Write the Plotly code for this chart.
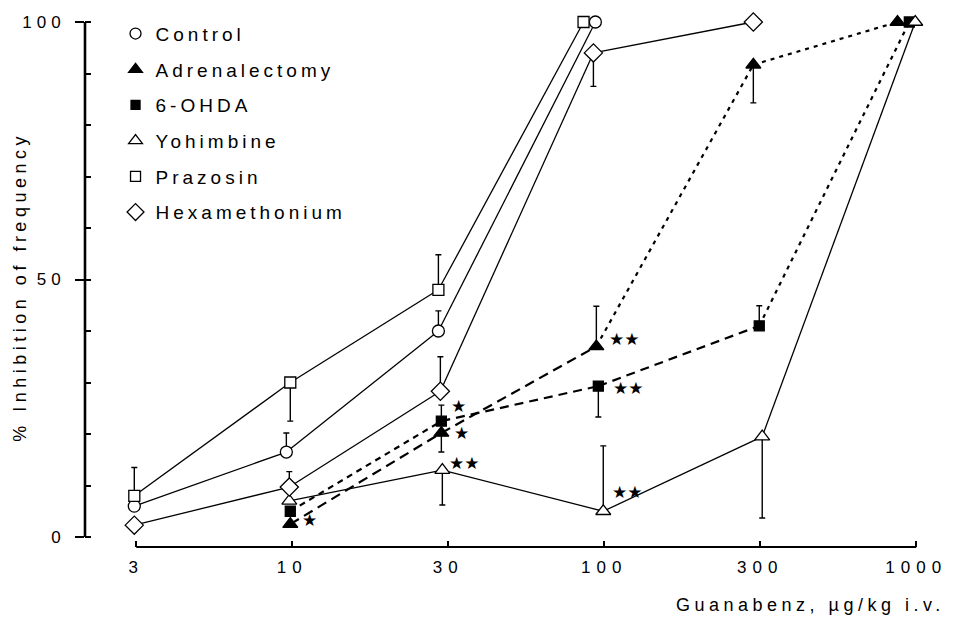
import plotly.graph_objects as go

# ---------------- data ----------------
DOSES = [3, 10, 30, 100, 300, 1000]          # µg/kg i.v. (evenly spaced on the axis)
TICK_LABELS = ["3", "10", "30", "100", "300", "1000"]

CONTROL_DOSE = [3, 10, 30, 100]
CONTROL_Y = [6, 16.5, 40, 100]
CONTROL_UP = [0, 3.7, 3.9, 0]
CONTROL_DN = [0, 0, 0, 0]

ADR_DOSE = [10, 30, 100, 300, 1000]
ADR_Y = [2.5, 20.2, 37, 91.7, 100]
ADR_UP = [0, 0, 7.8, 0, 0]
ADR_DN = [0, 3.7, 0, 7.4, 0]

OHDA_DOSE = [10, 30, 100, 300, 1000]
OHDA_Y = [5, 22.5, 29.3, 41, 100]
OHDA_UP = [0, 3.1, 0, 3.9, 0]
OHDA_DN = [0, 0, 6, 0, 0]

YOH_DOSE = [10, 30, 100, 300, 1000]
YOH_Y = [7, 13, 5, 19.5, 100]
YOH_UP = [0, 0, 12.7, 0, 0]
YOH_DN = [0, 6.8, 0, 15.8, 0]

PRAZ_DOSE = [3, 10, 30, 100]
PRAZ_Y = [8, 30, 48, 100]
PRAZ_UP = [5.5, 0, 6.8, 0]
PRAZ_DN = [0, 7.5, 0, 0]

HEX_DOSE = [3, 10, 30, 100, 300]
HEX_Y = [2.3, 9.7, 28.3, 94, 100]
HEX_UP = [0, 3, 6.7, 0, 0]
HEX_DN = [0, 0, 0, 6.5, 0]

# significance marks: (series, dose, text)
STARS = [
    ("Adrenalectomy", 10, "★"),
    ("6-OHDA", 30, "★"),
    ("Adrenalectomy", 30, "★"),
    ("Yohimbine", 30, "★★"),
    ("Adrenalectomy", 100, "★★"),
    ("6-OHDA", 100, "★★"),
    ("Yohimbine", 100, "★★"),
]

# ---------------- styling ----------------
STEP_PX = 158.2  # pixel width of one dose step
# small horizontal dodges (pixels) so overlapping symbols stay visible, as in the original
DODGE_PX = {
    "Control": [-2, -6, -10, -9],
    "Adrenalectomy": [-2, -7, -8, -7, -19],
    "6-OHDA": [-2, -7, -6, -1, -7],
    "Yohimbine": [-3, -6, -1, 2, -1],
    "Prazosin": [-2, -2, -10, -21],
    "Hexamethonium": [-2, -3, -8, -11, -7],
}
STAR_SHIFT = {  # (xshift, yshift) in px relative to the point
    ("Adrenalectomy", 10): (19, 4),
    ("6-OHDA", 30): (17, 15),
    ("Adrenalectomy", 30): (20, 0),
    ("Yohimbine", 30): (22, 7),
    ("Adrenalectomy", 100): (28, 7),
    ("6-OHDA", 100): (30, -2),
    ("Yohimbine", 100): (24, 19),
}

SERIES = [
    dict(name="Control", dose=CONTROL_DOSE, y=CONTROL_Y, up=CONTROL_UP, dn=CONTROL_DN,
         symbol="circle", size=12, fill="white", dash=["solid"] * 3, lw=1.3),
    dict(name="Adrenalectomy", dose=ADR_DOSE, y=ADR_Y, up=ADR_UP, dn=ADR_DN,
         symbol="triangle-up", size=13, fill="black",
         dash=["10px,6px", "10px,6px", "4px,5px", "4px,5px"], lw=2.2),
    dict(name="6-OHDA", dose=OHDA_DOSE, y=OHDA_Y, up=OHDA_UP, dn=OHDA_DN,
         symbol="square", size=10, fill="black",
         dash=["6px,5px", "9px,6px", "9px,6px", "4px,5px"], lw=2.2),
    dict(name="Yohimbine", dose=YOH_DOSE, y=YOH_Y, up=YOH_UP, dn=YOH_DN,
         symbol="triangle-up", size=13, fill="white", dash=["solid"] * 4, lw=1.3),
    dict(name="Prazosin", dose=PRAZ_DOSE, y=PRAZ_Y, up=PRAZ_UP, dn=PRAZ_DN,
         symbol="square", size=11, fill="white", dash=["solid"] * 3, lw=1.3),
    dict(name="Hexamethonium", dose=HEX_DOSE, y=HEX_Y, up=HEX_UP, dn=HEX_DN,
         symbol="diamond", size=14, fill="white", dash=["solid"] * 4, lw=1.3),
]

FONT = "Liberation Sans, Arial, Helvetica, sans-serif"


def spaced(text, px):
    return f'<span style="letter-spacing:{px}px">{text}</span>'


def xpos(s):
    return [DOSES.index(d) + DODGE_PX[s["name"]][i] / STEP_PX for i, d in enumerate(s["dose"])]


fig = go.Figure()

# connecting lines (segment by segment, to reproduce the mixed dash styles)
for s in SERIES:
    xs = xpos(s)
    for i in range(len(xs) - 1):
        fig.add_trace(go.Scatter(
            x=xs[i:i + 2], y=s["y"][i:i + 2], mode="lines",
            line=dict(color="black", width=s["lw"], dash=s["dash"][i]),
            showlegend=False, hoverinfo="skip", cliponaxis=False))

# markers with one-sided SEM bars
for s in SERIES:
    fig.add_trace(go.Scatter(
        x=xpos(s), y=s["y"], mode="markers", name=s["name"], showlegend=False,
        marker=dict(symbol=s["symbol"], size=s["size"], color=s["fill"],
                    line=dict(color="black", width=1.3)),
        error_y=dict(type="data", symmetric=False, array=s["up"], arrayminus=s["dn"],
                     color="black", thickness=1.4, width=3),
        cliponaxis=False))

# legend entries (symbols only)
for k, s in enumerate(SERIES):
    fig.add_trace(go.Scatter(
        x=[None], y=[None], mode="markers", name=spaced(s["name"], 4),
        legendgroup=f"g{k}",
        marker=dict(symbol=s["symbol"], size=s["size"] - 1, color=s["fill"],
                    line=dict(color="black", width=1.3))))

# significance stars
lookup = {s["name"]: s for s in SERIES}
annotations = []
for name, dose, txt in STARS:
    s = lookup[name]
    i = s["dose"].index(dose)
    dx, dy = STAR_SHIFT[(name, dose)]
    annotations.append(dict(
        x=xpos(s)[i], y=s["y"][i], xref="x", yref="y", text=txt, showarrow=False,
        xshift=dx, yshift=dy, font=dict(family="DejaVu Sans", size=17, color="black")))

# axis titles
annotations.append(dict(
    x=-0.077, y=0.486, xref="paper", yref="paper", xanchor="center", yanchor="middle",
    text=spaced("% Inhibition of frequency", 4.5),
    textangle=-90, showarrow=False, font=dict(family=FONT, size=18, color="black")))
annotations.append(dict(
    x=1, y=-0.108, xref="paper", yref="paper", xanchor="right", yanchor="middle", xshift=14,
    text=spaced("Guanabenz, µg/kg i.v.", 4.5), showarrow=False,
    font=dict(family=FONT, size=18, color="black")))

shapes = [
    dict(type="line", xref="paper", yref="y", x0=0, x1=0, y0=0, y1=100,
         line=dict(color="black", width=2.6)),
    dict(type="line", xref="x", yref="paper", x0=0, x1=len(DOSES) - 1, y0=0, y1=0,
         line=dict(color="black", width=2)),
]

fig.update_layout(
    width=959, height=617,
    margin=dict(l=85, r=14, t=12, b=70),
    paper_bgcolor="white", plot_bgcolor="white",
    font=dict(family=FONT, size=17, color="black"),
    showlegend=True,
    legend=dict(x=0.036, y=0.995, xanchor="left", yanchor="top",
                bgcolor="rgba(0,0,0,0)", font=dict(family=FONT, size=19),
                traceorder="grouped", tracegroupgap=8, itemclick=False),
    xaxis=dict(range=[-52 / STEP_PX, (945 - 137) / STEP_PX], showgrid=False, zeroline=False,
               showline=False, tickmode="array", tickvals=list(range(len(DOSES))),
               ticktext=[spaced(t, 6) for t in TICK_LABELS],
               ticks="inside", ticklen=6, tickwidth=2, tickcolor="black",
               ticklabelstandoff=8, tickfont=dict(size=17)),
    yaxis=dict(range=[-10 / 5.15, (537 - 12) / 5.15], showgrid=False, zeroline=False,
               showline=False, tickmode="array", tickvals=[0, 50, 100],
               ticktext=[spaced(t, 5) for t in ["0", "50", "100"]],
               ticks="outside", ticklen=9, tickwidth=2, tickcolor="black",
               ticklabelstandoff=6, tickfont=dict(size=17),
               minor=dict(ticks="inside", ticklen=6, tickwidth=1.5, tickcolor="black",
                          tickmode="linear", dtick=10, tick0=0, showgrid=False)),
    annotations=annotations, shapes=shapes,
)

# remove the browser's default 8px page margin so the figure sits at the window origin
fig.write_html("out.html", config={"displayModeBar": False},
               post_script="document.body.style.margin='0';")
